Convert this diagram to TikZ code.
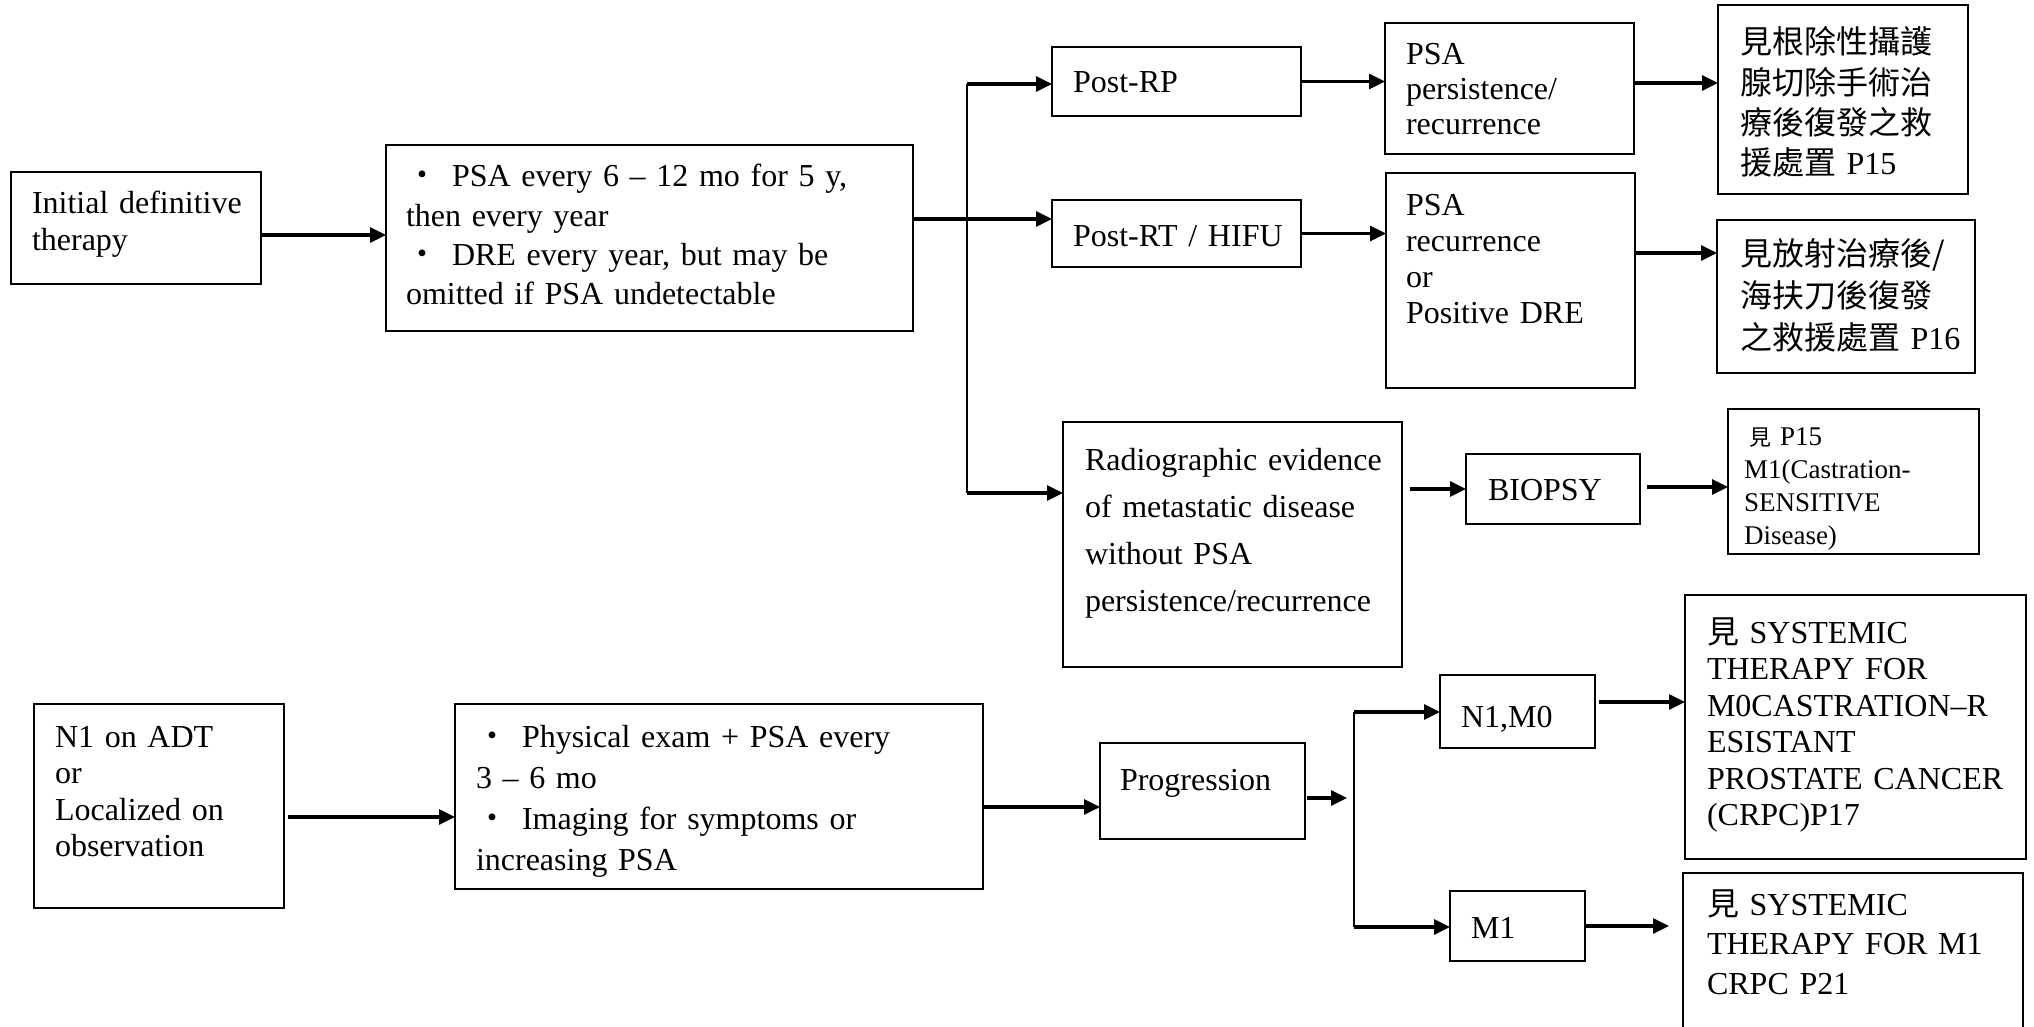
\documentclass[tikz,border=0pt]{standalone}
\usepackage{fontspec}
\setmainfont{Liberation Serif}
\newfontfamily\cjk{Noto Sans CJK TC}
\usetikzlibrary{arrows.meta}
\begin{document}
\begin{tikzpicture}[x=1pt,y=-1pt,
  box/.style={draw, line width=2.7pt, inner sep=0pt, outer sep=0pt, anchor=north west},
  txt/.style={inner sep=0pt, outer sep=0pt, anchor=base west, align=left},
  fs/.style={font={\fontsize{32}{#1}\selectfont}},
  arr/.style={line width=3.2pt, -{Triangle[length=16pt,width=15pt]}},
  ln/.style={line width=2.7pt}]
\useasboundingbox (0,0) rectangle (2034,1027);
\fill[white] (0,0) rectangle (2034,1027);
\clip (0,0) rectangle (2034,1027);

% ---------- boxes ----------
\node[box, minimum width=250pt, minimum height=112pt] (A) at (11,172) {};
\node[box, minimum width=527pt, minimum height=186pt] (B) at (386,145) {};
\node[box, minimum width=249pt, minimum height=69pt] (PostRP) at (1052,47) {};
\node[box, minimum width=249pt, minimum height=131pt] (PSA1) at (1385,23) {};
\node[box, minimum width=250pt, minimum height=189pt] (CJK1) at (1718,5) {};
\node[box, minimum width=249pt, minimum height=67pt] (PostRT) at (1052,200) {};
\node[box, minimum width=249pt, minimum height=215pt] (PSA2) at (1386,173) {};
\node[box, minimum width=258pt, minimum height=153pt] (CJK2) at (1717,220) {};
\node[box, minimum width=339pt, minimum height=245pt] (Rad) at (1063,422) {};
\node[box, minimum width=174pt, minimum height=70pt] (BIOPSY) at (1466,454) {};
\node[box, minimum width=251pt, minimum height=145pt] (P15) at (1728,409) {};
\node[box, minimum width=250pt, minimum height=204pt] (N1ADT) at (34,704) {};
\node[box, minimum width=528pt, minimum height=185pt] (B2) at (455,704) {};
\node[box, minimum width=205pt, minimum height=96pt] (Prog) at (1100,743) {};
\node[box, minimum width=155pt, minimum height=73pt] (N1M0) at (1440,675) {};
\node[box, minimum width=135pt, minimum height=70pt] (M1) at (1450,891) {};
\node[box, minimum width=341pt, minimum height=264pt] (SYSM0) at (1685,595) {};
\node[box, minimum width=340pt, minimum height=175pt] (SYSM1) at (1683,873) {};

% ---------- texts ----------
\node[txt, fs=37, text width=225pt] (tA) at (32,214) {Initial definitive\\therapy};
\node[txt, fs=39.3, text width=500pt] (tB) at (406,187)
  {{\cjk ・}\hspace{14pt}PSA every 6 – 12 mo for 5 y,\\then every year\\{\cjk ・}\hspace{14pt}DRE every year, but may be\\omitted if PSA undetectable};
\node[txt, fs=37, text width=220pt] (tPostRP) at (1073,93) {Post-RP};
\node[txt, fs=35, text width=222pt] (tPSA1) at (1406,65) {PSA\\persistence/\\recurrence};
\node[txt, fs=40.3, text width=226pt] (tCJK1) at (1740,54)
  {{\cjk 見根除性攝護}\\{\cjk 腺切除手術治}\\{\cjk 療後復發之救}\\{\cjk 援處置} P15};
\node[txt, fs=37, text width=220pt] (tPostRT) at (1073,247) {Post-RT / HIFU};
\node[txt, fs=36, text width=222pt] (tPSA2) at (1406,215) {PSA\\recurrence\\or\\Positive DRE};
\node[txt, fs=42, text width=232pt] (tCJK2) at (1740,265)
  {{\cjk 見放射治療後/}\\{\cjk 海扶刀後復發}\\{\cjk 之救援處置} P16};
\node[txt, fs=47, text width=315pt] (tRad) at (1085,470)
  {Radiographic evidence\\of metastatic disease\\without PSA\\persistence/recurrence};
\node[txt, fs=37, text width=150pt] (tBIOPSY) at (1488,500) {BIOPSY};
\node[txt, font={\fontsize{27}{33}\selectfont}, text width=232pt] (tP15) at (1744,445)
  {\hspace{5pt}{\cjk\fontsize{22}{33}\selectfont 見} P15\\M1(Castration-\\SENSITIVE\\Disease)};
\node[txt, fs=36.5, text width=316pt] (tSYSM0) at (1707,643)
  {{\cjk 見} SYSTEMIC\\THERAPY FOR\\M0CASTRATION–R\\ESISTANT\\PROSTATE CANCER\\(CRPC)P17};
\node[txt, fs=39.5, text width=314pt] (tSYSM1) at (1707,915)
  {{\cjk 見} SYSTEMIC\\THERAPY FOR M1\\CRPC P21};
\node[txt, fs=36.5, text width=226pt] (tN1ADT) at (55,747) {N1 on ADT\\or\\Localized on\\observation};
\node[txt, fs=41.3, text width=500pt] (tB2) at (476,747)
  {{\cjk ・}\hspace{14pt}Physical exam + PSA every\\3 – 6 mo\\{\cjk ・}\hspace{14pt}Imaging for symptoms or\\increasing PSA};
\node[txt, fs=37, text width=180pt] (tProg) at (1120,790) {Progression};
\node[txt, fs=37, text width=130pt] (tN1M0) at (1461,727) {N1,M0};
\node[txt, fs=37, text width=110pt] (tM1) at (1471,938) {M1};

% ---------- connectors ----------
\draw[arr] ([yshift=-7pt]A.east) -- ([yshift=-7pt]A.east -| B.west);
\draw[arr] ([yshift=19pt]B.east) -- ([yshift=19pt]B.east -| PostRT.west);
\coordinate (f1) at (967,84);
\coordinate (f2) at (967,493);
\draw[ln] (f1) -- (f2);
\draw[arr] (f1) -- (f1 -| PostRP.west);
\draw[arr] (f2) -- (f2 -| Rad.west);
\draw[arr] (PostRP.east) -- (PostRP.east -| PSA1.west);
\draw[arr] (PostRT.east) -- (PostRT.east -| PSA2.west);
\draw[arr] ([yshift=5.5pt]PSA1.east) -- ([yshift=5.5pt]PSA1.east -| CJK1.west);
\draw[arr] ([yshift=27.5pt]PSA2.east) -- ([yshift=27.5pt]PSA2.east -| CJK2.west);
\draw[arr] ([xshift=8pt]BIOPSY.west -| Rad.east) -- (BIOPSY.west);
\draw[arr] ([xshift=7pt,yshift=2pt]BIOPSY.east) -- ([yshift=2pt]BIOPSY.east -| P15.west);

\draw[arr] ([xshift=4pt,yshift=-11pt]N1ADT.east) -- ([yshift=-11pt]N1ADT.east -| B2.west);
\draw[arr] ([yshift=-10.5pt]B2.east) -- ([yshift=-10.5pt]B2.east -| Prog.west);
\coordinate (pj) at (1347,798);
\draw[arr] ([xshift=2pt]Prog.east |- pj) -- (pj);
\coordinate (h1) at (1354,712);
\coordinate (h2) at (1354,927);
\draw[ln] (h1) -- (h2);
\draw[arr] (h1) -- (h1 -| N1M0.west);
\draw[arr] (h2) -- (h2 -| M1.west);
\draw[arr] ([xshift=4pt,yshift=9.5pt]N1M0.east) -- ([yshift=9.5pt]N1M0.east -| SYSM0.west);
\draw[arr] (M1.east) -- ([xshift=-14pt]M1.east -| SYSM1.west);
\end{tikzpicture}
\end{document}
